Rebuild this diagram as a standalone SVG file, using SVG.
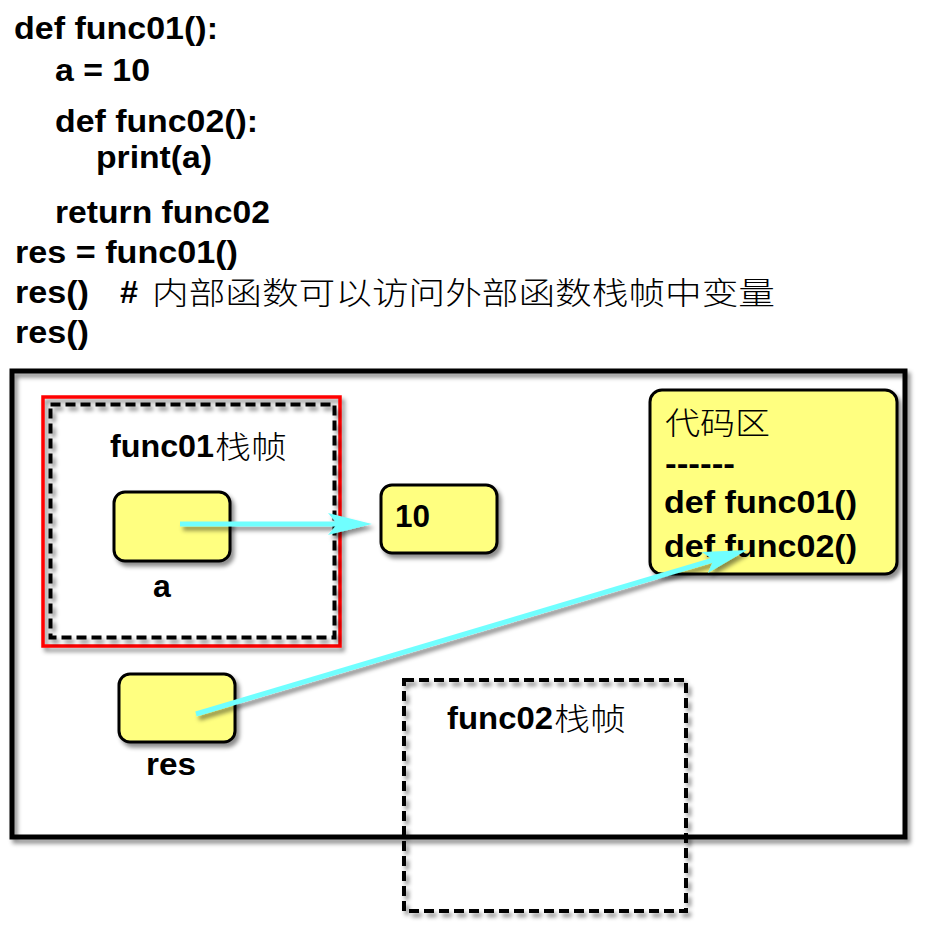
<svg xmlns="http://www.w3.org/2000/svg" width="945" height="951" viewBox="0 0 945 951">
<defs>
<style>
.code{font-family:"Liberation Sans",Arial,sans-serif;font-weight:bold;font-size:31px;fill:#000}
.cjk{font-family:"Noto Sans CJK SC",sans-serif;font-weight:300;font-size:31px;fill:#000}
.lbl{font-family:"Liberation Sans",Arial,sans-serif;font-weight:bold;font-size:32px;fill:#000}
.cell{fill:#ffff80;stroke:#000;stroke-width:3}
.dash{fill:none;stroke:#000;stroke-width:4;stroke-dasharray:10 5}
.conn{stroke:#70ffff;stroke-width:5;fill:none}
</style>
<filter id="sh" x="-10%" y="-10%" width="130%" height="130%">
<feDropShadow dx="3" dy="4" stdDeviation="2" flood-color="#000" flood-opacity="0.45"/>
</filter>
<marker id="ah" markerUnits="userSpaceOnUse" markerWidth="46" markerHeight="26" viewBox="0 0 46 26" refX="24" refY="13" orient="auto">
<path d="M0,2 L44,13 L0,24 L9,13 z" fill="#70ffff"/>
</marker>
</defs>
<rect width="945" height="951" fill="#fff"/>

<g id="code">
<text class="code" x="14" y="39" textLength="204" lengthAdjust="spacingAndGlyphs">def func01():</text>
<text class="code" x="55" y="81" textLength="95" lengthAdjust="spacingAndGlyphs">a = 10</text>
<text class="code" x="55" y="132" textLength="203" lengthAdjust="spacingAndGlyphs">def func02():</text>
<text class="code" x="96" y="168" textLength="116" lengthAdjust="spacingAndGlyphs">print(a)</text>
<text class="code" x="55" y="223" textLength="215" lengthAdjust="spacingAndGlyphs">return func02</text>
<text class="code" x="15" y="263" textLength="223" lengthAdjust="spacingAndGlyphs">res = func01()</text>
<text class="code" x="15" y="303" textLength="74" lengthAdjust="spacingAndGlyphs">res()</text>
<text class="code" x="120" y="303" textLength="18" lengthAdjust="spacingAndGlyphs">#</text>
<text class="cjk" x="152" y="304" textLength="623" lengthAdjust="spacingAndGlyphs">内部函数可以访问外部函数栈帧中变量</text>
<text class="code" x="15" y="343" textLength="74" lengthAdjust="spacingAndGlyphs">res()</text>
</g>

<g id="memory">
<rect x="12" y="371" width="893" height="466" fill="none" stroke="#000" stroke-width="5" filter="url(#sh)"/>
</g>

<g id="func01-frame">
<rect x="43" y="397" width="297" height="249" fill="none" stroke="#ff0000" stroke-width="3.5" filter="url(#sh)"/>
<rect class="dash" x="50.5" y="404.5" width="284" height="233" filter="url(#sh)"/>
<text class="lbl" x="110" y="457" font-size="33" textLength="104" lengthAdjust="spacingAndGlyphs">func01</text>
<text class="cjk" x="215" y="458" font-size="32" textLength="72" lengthAdjust="spacingAndGlyphs">栈帧</text>
</g>

<g id="var-a">
<rect class="cell" x="114" y="492" width="116" height="69" rx="11" filter="url(#sh)"/>
<text class="lbl" x="153" y="597">a</text>
</g>

<g id="value-10">
<rect class="cell" x="381" y="485" width="116" height="68" rx="11" filter="url(#sh)"/>
<text class="lbl" x="395" y="527" textLength="35" lengthAdjust="spacingAndGlyphs">10</text>
</g>

<g id="code-area">
<rect class="cell" x="650" y="390" width="247" height="184" rx="12" filter="url(#sh)"/>
<text class="cjk" x="665" y="434" font-size="32" textLength="105" lengthAdjust="spacingAndGlyphs">代码区</text>
<text class="lbl" x="665" y="474" textLength="70" lengthAdjust="spacingAndGlyphs">------</text>
<text class="lbl" x="664" y="513" textLength="193" lengthAdjust="spacingAndGlyphs">def func01()</text>
<text class="lbl" x="664" y="557" textLength="193" lengthAdjust="spacingAndGlyphs">def func02()</text>
</g>

<g id="var-res">
<rect class="cell" x="119" y="674" width="116" height="68" rx="11" filter="url(#sh)"/>
<text class="lbl" x="146" y="775" textLength="50" lengthAdjust="spacingAndGlyphs">res</text>
</g>

<g id="func02-frame">
<rect class="dash" x="404" y="680" width="282" height="231" filter="url(#sh)"/>
<text class="lbl" x="447" y="729" font-size="33" textLength="106" lengthAdjust="spacingAndGlyphs">func02</text>
<text class="cjk" x="554" y="730" font-size="32" textLength="72" lengthAdjust="spacingAndGlyphs">栈帧</text>
</g>

<g id="connectors" filter="url(#sh)">
<line class="conn" x1="180" y1="524" x2="352" y2="524" marker-end="url(#ah)"/>
<line class="conn" x1="196" y1="714" x2="727.8" y2="555.7" marker-end="url(#ah)"/>
</g>
</svg>
